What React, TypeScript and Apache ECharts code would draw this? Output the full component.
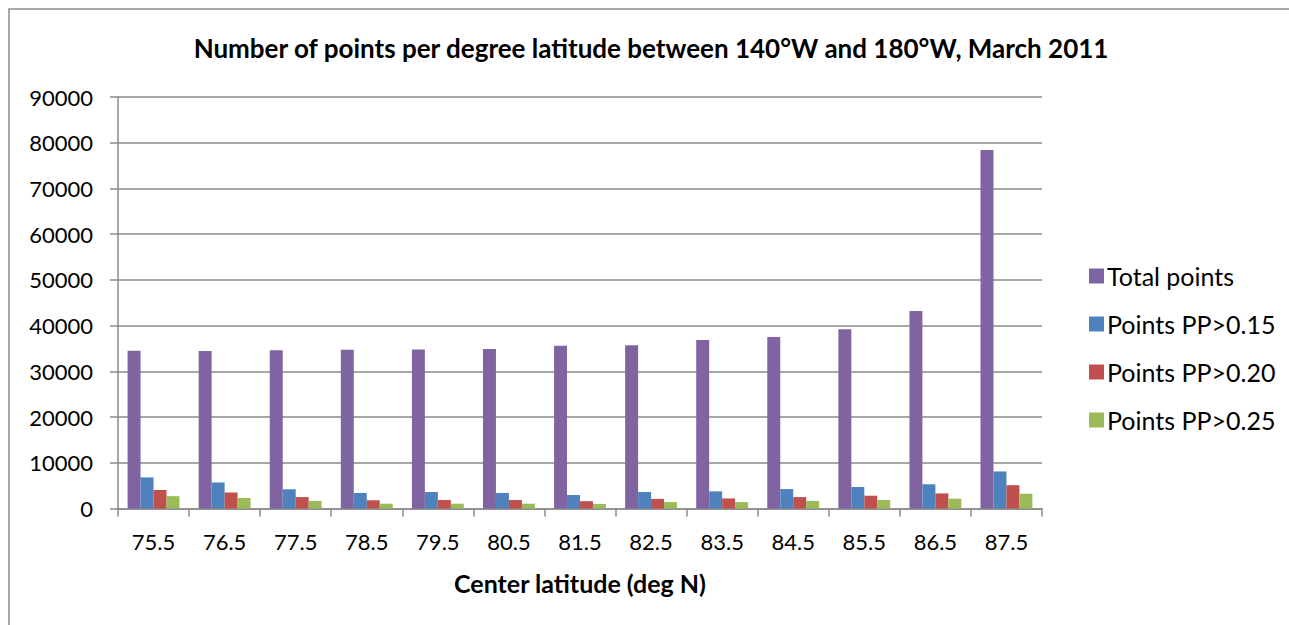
import React, { useEffect, useRef } from "react";
import * as echarts from "echarts";

const categories = ["75.5", "76.5", "77.5", "78.5", "79.5", "80.5", "81.5", "82.5", "83.5", "84.5", "85.5", "86.5", "87.5"];
const totalPoints = [34500, 34450, 34600, 34700, 34800, 34900, 35600, 35700, 36850, 37500, 39200, 43200, 78400];
const pp015 = [6800, 5700, 4200, 3400, 3600, 3400, 2950, 3600, 3750, 4250, 4700, 5300, 8100];
const pp020 = [4050, 3500, 2500, 1800, 1850, 1850, 1600, 2100, 2200, 2500, 2800, 3300, 5100];
const pp025 = [2700, 2300, 1650, 1050, 1050, 1050, 1000, 1400, 1400, 1650, 1850, 2150, 3200];
const seriesNames = ["Total points", "Points PP>0.15", "Points PP>0.20", "Points PP>0.25"];
const colors = ["#8064A2", "#4F81BD", "#C0504D", "#9BBB59"];

const FONT = "Lato, 'Open Sans', sans-serif";
const GRAY = "#8a8a8a";

export default function App() {
  const ref = useRef<HTMLDivElement>(null);
  useEffect(() => {
    if (!ref.current) return;
    const chart = echarts.init(ref.current, undefined, { renderer: "svg" });
    const data = [totalPoints, pp015, pp020, pp025];
    chart.setOption({
      animation: false,
      backgroundColor: "#ffffff",
      textStyle: { fontFamily: FONT },
      title: {
        text: "Number of points per degree latitude between 140°W and 180°W, March 2011",
        left: 646,
        top: 30,
        textAlign: "center",
        textStyle: { fontFamily: FONT, fontSize: 26, fontWeight: "bold", color: "#000" },
      },
      legend: {
        orient: "vertical",
        left: 1084,
        top: 258,
        itemWidth: 15,
        itemHeight: 15,
        itemGap: 22,
        itemStyle: { borderWidth: 0 },
        icon: "rect",
        data: seriesNames,
        textStyle: { fontFamily: FONT, fontSize: 25, color: "#000", lineHeight: 26, padding: [0, 0, 0, -2] },
      },
      grid: { left: 118, right: 247, top: 97, bottom: 116.5, containLabel: false },
      xAxis: {
        type: "category",
        data: categories,
        name: "Center latitude (deg N)",
        nameLocation: "middle",
        nameGap: 62,
        nameTextStyle: { fontFamily: FONT, fontSize: 25, fontWeight: "bold", color: "#000" },
        axisLine: { lineStyle: { color: GRAY, width: 1.5 } },
        axisTick: { show: true, length: 8, lineStyle: { color: GRAY, width: 1.5 } },
        axisLabel: { fontFamily: FONT, fontSize: 22, color: "#000", margin: 22 },
      },
      yAxis: {
        type: "value",
        min: 0,
        max: 90000,
        interval: 10000,
        axisLine: { show: true, lineStyle: { color: GRAY, width: 1.5 } },
        axisTick: { show: true, length: 8, lineStyle: { color: GRAY, width: 1.5 } },
        axisLabel: {
          fontFamily: FONT,
          fontSize: 22,
          color: "#000",
          margin: 25,
          formatter: (v: number) => String(v),
        },
        splitLine: { show: true, lineStyle: { color: GRAY, width: 1.5 } },
      },
      graphic: [
        {
          type: "rect",
          shape: { x: 9, y: 9, width: 1400, height: 800 },
          style: { fill: "none", stroke: "#8c8c8c", lineWidth: 1.5 },
          silent: true,
          z: -1,
        },
      ],
      series: seriesNames.map((name, i) => ({
        name,
        type: "bar",
        data: data[i],
        barGap: "0%",
        barCategoryGap: "27%",
        itemStyle: { color: colors[i] },
      })),
    });
    return () => chart.dispose();
  }, []);
  return (
    <div
      ref={ref}
      style={{ position: "fixed", left: 0, top: 0, width: 1289, height: 625, background: "#fff" }}
    />
  );
}
